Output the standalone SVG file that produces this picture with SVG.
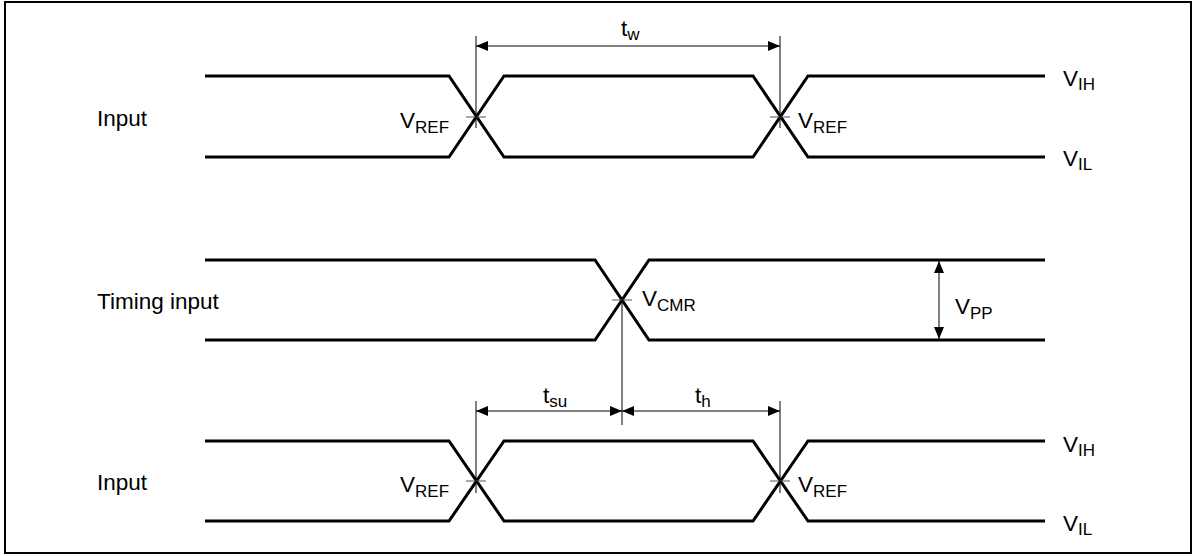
<svg xmlns="http://www.w3.org/2000/svg" width="1199" height="556" viewBox="0 0 1199 556">
<style>
.wave{fill:none;stroke:#000;stroke-width:3;stroke-linejoin:miter}
.dim{fill:none;stroke:#000;stroke-width:1}
.tick{fill:none;stroke:#555;stroke-width:1}
text{font-family:"Liberation Sans",Arial,sans-serif;font-size:22.5px;fill:#000}
.sub{font-size:17px}
</style>
<defs>
<marker id="ah" viewBox="0 0 12 10" refX="12" refY="5" markerWidth="12" markerHeight="10" markerUnits="userSpaceOnUse" orient="auto-start-reverse">
<path d="M0,0 L12,5 L0,10 Z" fill="#000"/>
</marker>
</defs>
<rect x="5" y="2" width="1186" height="551" fill="#fff" stroke="#000" stroke-width="2"/>

<g id="input-top">
<path class="wave" d="M205,76 H449 L504,157 H753 L808,76 H1045"/>
<path class="wave" d="M205,157 H449 L504,76 H753 L808,157 H1045"/>
<path class="tick" d="M466,117 H486 M770,117 H790"/>
<text x="97" y="126">Input</text>
<text x="400" y="128">V<tspan class="sub" dy="5">REF</tspan></text>
<text x="798" y="128">V<tspan class="sub" dy="5">REF</tspan></text>
<text x="1063" y="86">V<tspan class="sub" dy="4">IH</tspan></text>
<text x="1063" y="166">V<tspan class="sub" dy="4">IL</tspan></text>
</g>

<g id="timing-input">
<path class="wave" d="M205,260 H595 L649,340 H1045"/>
<path class="wave" d="M205,340 H595 L649,260 H1045"/>
<path class="tick" d="M612,300 H632"/>
<text x="97" y="309">Timing input</text>
<text x="642" y="306">V<tspan class="sub" dy="5">CMR</tspan></text>
<text x="955" y="314">V<tspan class="sub" dy="5">PP</tspan></text>
</g>

<g id="input-bottom">
<path class="wave" d="M205,441 H449 L504,521 H753 L808,441 H1045"/>
<path class="wave" d="M205,521 H449 L504,441 H753 L808,521 H1045"/>
<path class="tick" d="M466,481 H486 M770,481 H790"/>
<text x="97" y="490">Input</text>
<text x="400" y="492">V<tspan class="sub" dy="5">REF</tspan></text>
<text x="798" y="492">V<tspan class="sub" dy="5">REF</tspan></text>
<text x="1063" y="452">V<tspan class="sub" dy="4">IH</tspan></text>
<text x="1063" y="531">V<tspan class="sub" dy="4">IL</tspan></text>
</g>

<g id="connectors">
<path class="dim" d="M476,36 V128 M780,36 V128"/>
<line class="dim" x1="476" y1="46" x2="780" y2="46" marker-start="url(#ah)" marker-end="url(#ah)"/>
<text x="621" y="36">t<tspan class="sub" dy="4">w</tspan></text>

<line class="dim" x1="939" y1="261" x2="939" y2="339" marker-start="url(#ah)" marker-end="url(#ah)"/>

<path class="dim" d="M622,300 V425 M476,401 V493 M780,401 V493"/>
<line class="dim" x1="476" y1="411" x2="622" y2="411" marker-start="url(#ah)" marker-end="url(#ah)"/>
<line class="dim" x1="622" y1="411" x2="780" y2="411" marker-start="url(#ah)" marker-end="url(#ah)"/>
<text x="543" y="403">t<tspan class="sub" dy="4">su</tspan></text>
<text x="695" y="403">t<tspan class="sub" dy="4">h</tspan></text>
</g>
</svg>
